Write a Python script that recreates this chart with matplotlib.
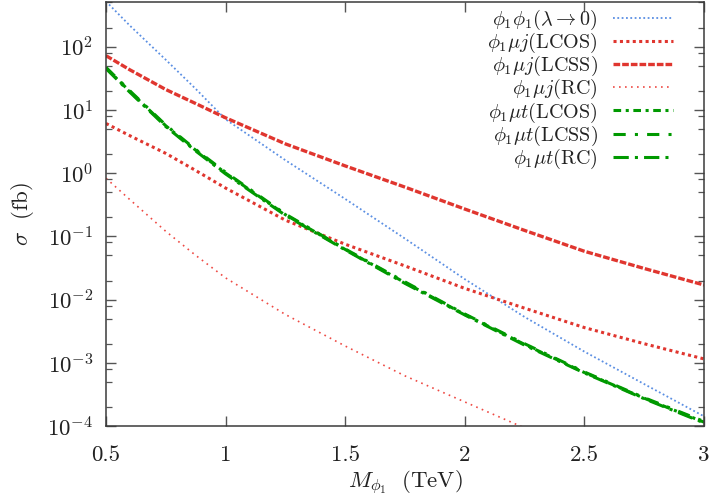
import numpy as np
import matplotlib.pyplot as plt
from matplotlib.ticker import FixedLocator, NullFormatter, NullLocator

plt.rcParams['mathtext.fontset'] = 'cm'
plt.rcParams['font.family'] = 'serif'
plt.rcParams['font.serif'] = ['cmr10']
plt.rcParams['axes.formatter.use_mathtext'] = True
plt.rcParams['axes.unicode_minus'] = False

# masses in TeV
mass = [0.5, 0.6, 0.75, 0.875, 1.0, 1.25, 1.5, 1.75, 2.0, 2.25, 2.5, 2.75, 3.0]

# cross sections in fb
pair = [520, 215, 62, 21.5, 7.1, 1.6, 0.39, 0.092, 0.021, 5.3e-3, 1.5e-3, 4.6e-4, 1.42e-4]
muj_lcos = [6.1, 3.9, 2.05, 1.1, 0.58, 0.18, 0.075, 0.034, 0.015, 7.3e-3, 3.6e-3, 2.0e-3, 1.15e-3]
muj_lcss = [72, 43, 21, 12.6, 7.5, 2.9, 1.3, 0.6, 0.27, 0.124, 0.058, 0.031, 0.017]
muj_rc = [0.83, 0.38, 0.12, 0.05, 0.022, 5.8e-3, 1.84e-3, 6.2e-4, 2.4e-4, 9.3e-5, 4e-5, 1.8e-5, 8e-6]
mut_lcos = [46, 19.5, 5.6, 2.3, 1.0, 0.22, 0.062, 0.0185, 5.8e-3, 1.95e-3, 7.0e-4, 2.75e-4, 1.15e-4]
mut_lcss = [47, 20.0, 5.75, 2.36, 1.03, 0.225, 0.063, 0.019, 5.9e-3, 2.0e-3, 7.15e-4, 2.8e-4, 1.18e-4]
mut_rc = [45, 19.0, 5.45, 2.24, 0.97, 0.215, 0.061, 0.018, 5.7e-3, 1.9e-3, 6.9e-4, 2.7e-4, 1.12e-4]

x_ticks = [0.5, 1, 1.5, 2, 2.5, 3]
x_labels = ['0.5', '1', '1.5', '2', '2.5', '3']
y_ticks = [1e-4, 1e-3, 1e-2, 1e-1, 1, 10, 100]

blue = '#5b8fe3'
red = '#e0362f'
green = '#009900'

fig = plt.figure(figsize=(7.09, 4.98), dpi=100)
ax = fig.add_axes([0.1495, 0.1446, 0.8435, 0.8504])

ax.plot(mass, pair, color=blue, ls=(0, (1, 1.4)), lw=1.3, label=r'$\phi_1\phi_1(\lambda\rightarrow 0)$')
ax.plot(mass, muj_lcos, color=red, ls=(0, (1, 1.1)), lw=2.2, label=r'$\phi_1\mu j(\mathrm{LCOS})$')
ax.plot(mass, muj_lcss, color=red, ls=(0, (2, 0.6)), lw=2.4, label=r'$\phi_1\mu j(\mathrm{LCSS})$')
ax.plot(mass, muj_rc, color='#ee4a44', ls=(0, (1, 2.6)), lw=1.2, label=r'$\phi_1\mu j(\mathrm{RC})$')
ax.plot(mass, mut_lcos, color=green, ls=(0, (2.5, 1.5, 1, 1.5)), lw=2.2, label=r'$\phi_1\mu t(\mathrm{LCOS})$')
ax.plot(mass, mut_lcss, color=green, ls=(0, (4, 3, 1, 3)), lw=2.2, label=r'$\phi_1\mu t(\mathrm{LCSS})$')
ax.plot(mass, mut_rc, color=green, ls=(0, (5, 2, 1, 2)), lw=2.2, label=r'$\phi_1\mu t(\mathrm{RC})$')

ax.set_yscale('log')
ax.set_xlim(0.5, 3)
ax.set_ylim(1e-4, 500)
ax.xaxis.set_major_locator(FixedLocator(x_ticks))
ax.set_xticklabels(x_labels)
ax.xaxis.set_minor_locator(NullLocator())
ax.yaxis.set_major_locator(FixedLocator(y_ticks))
# minor ticks at 2, 5, 8 within each decade
minor = [m * d for d in y_ticks for m in (2, 5, 8) if m * d <= 500]
ax.yaxis.set_minor_locator(FixedLocator(minor))
ax.yaxis.set_minor_formatter(NullFormatter())

for s in ax.spines.values():
    s.set_color('#3a3a3a')
    s.set_linewidth(1.1)
ax.tick_params(which='both', direction='in', top=True, right=True, color='#555555',
               labelsize=16.5, labelcolor='#222222')
ax.tick_params(which='major', length=7, width=1)
ax.tick_params(which='minor', length=4, width=0.9)
ax.tick_params(axis='x', which='major', pad=14)
ax.tick_params(axis='y', which='major', pad=9)

ax.set_xlabel(r'$M_{\phi_1}\ \ (\mathrm{TeV})$', fontsize=16.5, labelpad=3, color='#222222')
ax.set_ylabel(r'$\sigma\ \ (\mathrm{fb})$', fontsize=16.5, labelpad=8, color='#222222')

leg = ax.legend(loc='upper right', bbox_to_anchor=(673 / 709, 1 - 8 / 498),
                bbox_transform=fig.transFigure, frameon=False, markerfirst=False,
                fontsize=14.5, handlelength=3.0, handletextpad=0.75,
                labelspacing=-0.05, borderpad=0, borderaxespad=0)
for t in leg.get_texts():
    t.set_color('#222222')

fig.savefig('out.png', dpi=100)
